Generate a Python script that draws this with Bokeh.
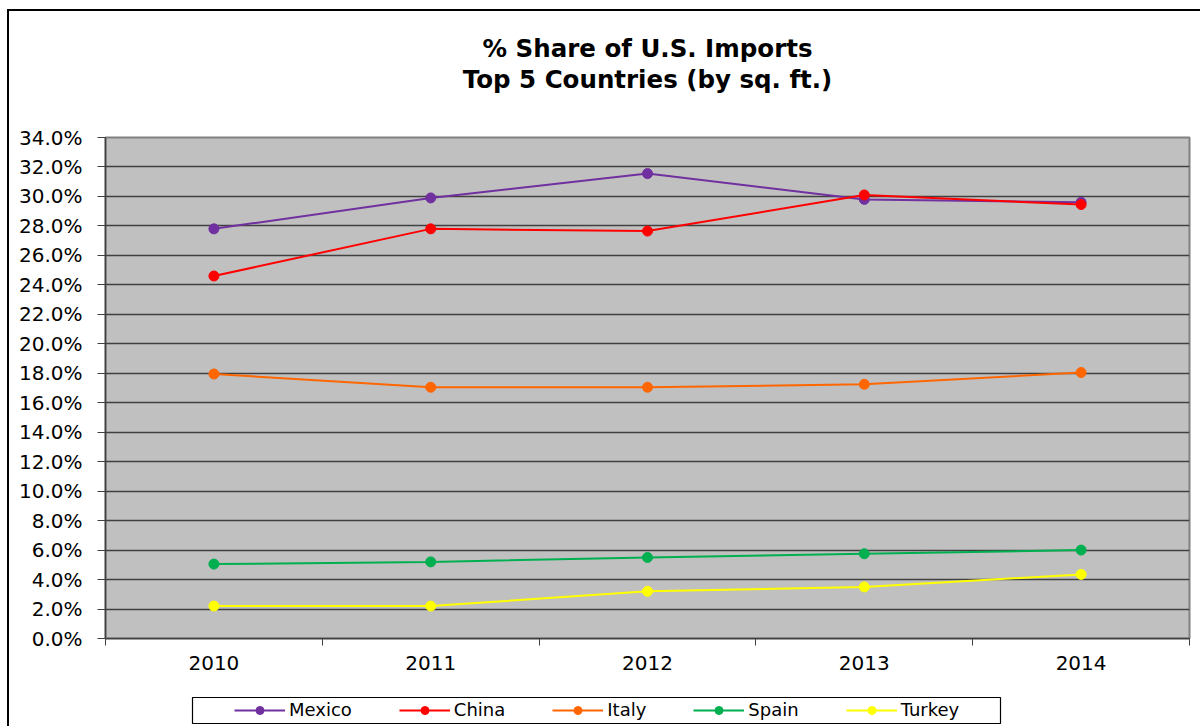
from bokeh.plotting import figure
from bokeh.layouts import column
from bokeh.models import (Range1d, FixedTicker, PrintfTickFormatter, Legend, LegendItem, Title,
                          BoxAnnotation)
from bokeh.embed import file_html
from bokeh.resources import INLINE

# ---- data ----
years = [2010, 2011, 2012, 2013, 2014]
mexico = [27.8, 29.9, 31.55, 29.8, 29.6]
china = [24.6, 27.8, 27.65, 30.1, 29.45]
italy = [17.95, 17.05, 17.05, 17.25, 18.05]
spain = [5.05, 5.2, 5.5, 5.75, 6.0]
turkey = [2.2, 2.2, 3.2, 3.5, 4.35]
series_names = ["Mexico", "China", "Italy", "Spain", "Turkey"]
series_values = [mexico, china, italy, spain, turkey]
series_colors = ["#7030A0", "#FF0000", "#FF6600", "#00B050", "#FFFF00"]
y_ticks = [0, 2, 4, 6, 8, 10, 12, 14, 16, 18, 20, 22, 24, 26, 28, 30, 32, 34]
title_lines = ["% Share of U.S. Imports", "Top 5 Countries (by sq. ft.)"]

FONT = "DejaVu Sans"

# ---------------- main chart ----------------
p = figure(width=1200, height=690, output_backend="svg", toolbar_location=None,
           x_range=Range1d(years[0] - 0.5, years[-1] + 0.5),
           y_range=Range1d(y_ticks[0], y_ticks[-1]),
           min_border_left=105, min_border_right=11, min_border_top=137, min_border_bottom=52)

p.background_fill_color = "#C0C0C0"
p.border_fill_alpha = 0
p.outline_line_color = "#808080"
p.outline_line_width = 2

p.xgrid.visible = False
p.ygrid.grid_line_color = "#404040"
p.ygrid.grid_line_width = 1.5
p.ygrid.ticker = FixedTicker(ticks=y_ticks)

p.yaxis.ticker = FixedTicker(ticks=y_ticks)
p.yaxis.formatter = PrintfTickFormatter(format="%.1f%%")
p.yaxis.major_label_text_font = FONT
p.yaxis.major_label_text_font_size = "20px"
p.yaxis.major_label_text_color = "black"
p.yaxis.major_tick_out = 8
p.yaxis.major_tick_in = 0
p.yaxis.minor_tick_out = 0
p.yaxis.minor_tick_in = 0
p.yaxis.major_label_standoff = 15
p.yaxis.axis_line_color = "#404040"
p.yaxis.axis_line_width = 1.5
p.yaxis.major_tick_line_color = "#404040"

p.xaxis.ticker = FixedTicker(ticks=years, minor_ticks=[y - 0.5 for y in years] + [years[-1] + 0.5])
p.xaxis.major_label_overrides = {y: str(y) for y in years}
p.xaxis.major_label_text_font = FONT
p.xaxis.major_label_text_font_size = "20px"
p.xaxis.major_label_text_color = "black"
p.xaxis.major_tick_out = 0
p.xaxis.major_tick_in = 0
p.xaxis.minor_tick_out = 7
p.xaxis.minor_tick_in = 0
p.xaxis.minor_tick_line_color = "#404040"
p.xaxis.major_label_standoff = 10
p.xaxis.axis_line_color = "#404040"
p.xaxis.axis_line_width = 1.5

for name, vals, col in zip(series_names, series_values, series_colors):
    p.line(years, vals, line_color=col, line_width=2)
    p.scatter(years, vals, size=10, fill_color=col, line_color=col)

# title (added nearest-to-frame first): white spacer, then the two lines
p.add_layout(Title(text=".", text_color="white", text_font_size="10px", standoff=34), "above")
p.add_layout(Title(text=title_lines[1], align="center", standoff=0,
                   text_font=FONT, text_font_style="bold", text_font_size="24.5px",
                   text_color="black"), "above")
p.add_layout(Title(text=title_lines[0], align="center", standoff=0,
                   text_font=FONT, text_font_style="bold", text_font_size="24.5px",
                   text_color="black"), "above")

# ---------------- legend strip ----------------
# its frame is aligned with the main frame (starts at x = 105)
q = figure(width=1200, height=36, output_backend="svg", toolbar_location=None,
           x_axis_type=None, y_axis_type=None, min_border=0,
           x_range=Range1d(0, 1), y_range=Range1d(0, 1))
q.outline_line_color = None
q.background_fill_alpha = 0
q.border_fill_alpha = 0

items = []
for name, vals, col in zip(series_names, series_values, series_colors):
    # same series, drawn outside this strip's visible range: only the legend swatch shows
    r1 = q.line(years, vals, line_color=col, line_width=2)
    r2 = q.scatter(years, vals, size=10, fill_color=col, line_color=col)
    items.append(LegendItem(label=name, renderers=[r1, r2]))

q.add_layout(BoxAnnotation(left=87, right=895, bottom=3, top=29,
                           left_units="screen", right_units="screen",
                           bottom_units="screen", top_units="screen",
                           fill_color="white", fill_alpha=1,
                           line_color="black", line_alpha=1, line_width=1.2))

legend = Legend(items=items, orientation="horizontal", location=(126, 3),
                label_text_font=FONT, label_text_font_size="18px", label_text_color="black",
                glyph_width=51, glyph_height=20, label_height=20, label_width=0,
                label_standoff=4, spacing=47, padding=3, margin=0,
                border_line_alpha=0, background_fill_alpha=0)
q.add_layout(legend, "center")

page = column(p, q, spacing=0)
page.styles = {"box-shadow": "inset 7px 9px 0px 0px #ffffff, inset 9px 11px 0px 0px #000000",
               "background-color": "#ffffff"}

open("out.html", "w").write(file_html(page, INLINE))
